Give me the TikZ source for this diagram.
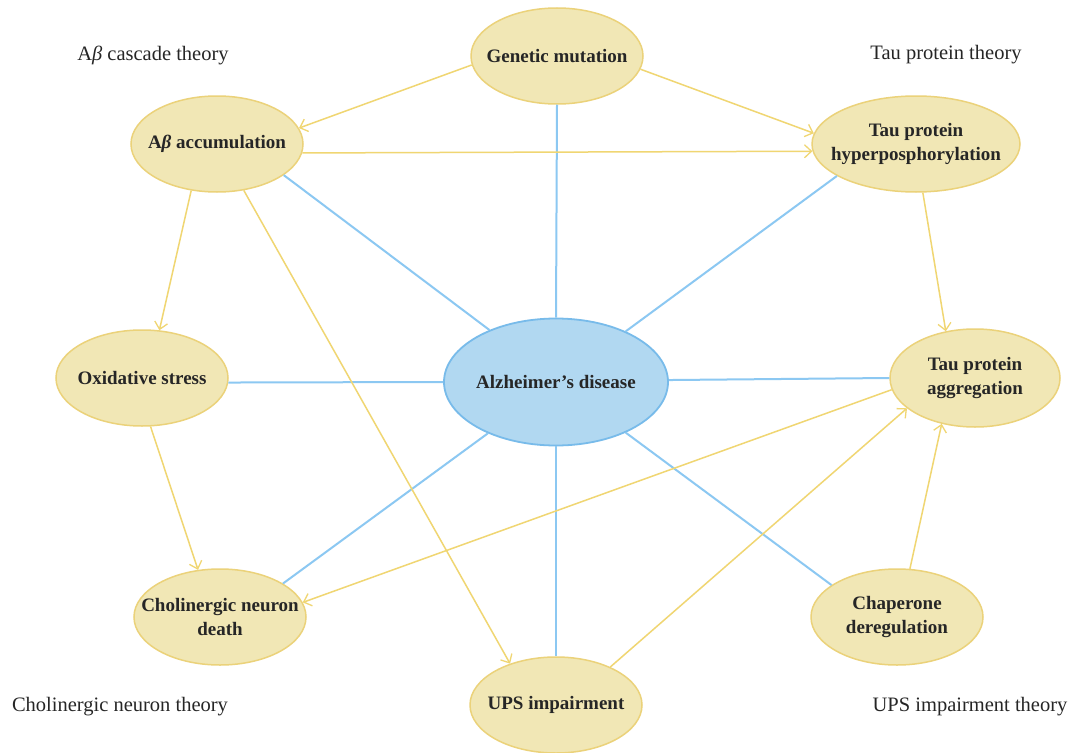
\documentclass[tikz,border=0pt]{standalone}
\usepackage{fontspec}
\setmainfont{Liberation Serif}
\usetikzlibrary{shapes.geometric,arrows.meta}
\definecolor{yfill}{HTML}{F1E7B5}
\definecolor{ydraw}{HTML}{EBD27A}
\definecolor{yline}{HTML}{F0D672}
\definecolor{bfill}{HTML}{B1D8F1}
\definecolor{bdraw}{HTML}{78BBEA}
\definecolor{bline}{HTML}{8CC8F2}
\definecolor{txt}{HTML}{262626}
\begin{document}
\begin{tikzpicture}[x=1pt,y=-1pt,
  ynode/.style={ellipse, fill=yfill, draw=ydraw, line width=1.5pt, inner sep=0pt,
    minimum width=172pt, minimum height=96pt},
  bnode/.style={ellipse, fill=bfill, draw=bdraw, line width=1.8pt, inner sep=0pt,
    minimum width=224pt, minimum height=127pt},
  ntext/.style={align=center, text=txt, inner sep=0pt,
    font=\fontsize{19}{24}\selectfont\bfseries},
  theory/.style={text=txt, inner sep=0pt, font=\fontsize{20.5}{24}\selectfont},
  yarr/.style={draw=yline, line width=1.5pt, -{Straight Barb[length=7pt,width=13pt,line width=1.3pt]}},
  bcon/.style={draw=bline, line width=2pt}]
\useasboundingbox[fill=white] (0,0) rectangle (1073,752);
% nodes
\node[ynode, label={[ntext]center:Genetic mutation}] (gen) at (557,56) {};
\node[ynode, label={[ntext]center:A\textit{β} accumulation}] (ab) at (217,144) {};
\node[ynode, minimum width=208pt, label={[ntext]center:Tau protein\\hyperposphorylation}] (th) at (916,144) {};
\node[ynode, label={[ntext]center:Oxidative stress}] (ox) at (142,378) {};
\node[bnode, label={[ntext]center:Alzheimer’s disease}] (alz) at (556,382) {};
\node[ynode, minimum width=170pt, minimum height=98pt, label={[ntext]center:Tau protein\\aggregation}] (agg) at (975,378) {};
\node[ynode, label={[ntext]center:Cholinergic neuron\\death}] (cho) at (220,617) {};
\node[ynode, label={[ntext]center:Chaperone\\deregulation}] (chap) at (897,617) {};
\node[ynode, label={[ntext]center:UPS impairment}] (ups) at (556,705) {};
% theory labels
\node[theory] (t1) at (153,55) {A\textit{β} cascade theory};
\node[theory] (t2) at (946,55) {Tau protein theory};
\node[theory] (t3) at (120,707) {Cholinergic neuron theory};
\node[theory] (t4) at (970,707) {UPS impairment theory};
% blue connectors
\draw[bcon] (alz.north) -- (gen.south);
\draw[bcon] (alz.142) -- (ab.-25);
\draw[bcon] (alz.36) -- (th.202);
\draw[bcon] (alz.180) -- (ox.-3);
\draw[bcon] (alz.1) -- (agg.180);
\draw[bcon] (alz.217) -- (cho.28);
\draw[bcon] (alz.south) -- (ups.north);
\draw[bcon] (alz.-36) -- (chap.154);
% yellow arrows
\draw[yarr] (gen.186) -- (ab.11);
\draw[yarr] (gen.-9) -- (th.174);
\draw[yarr] (ab.-6) -- (th.184.5);
\draw[yarr] (ab.-119) -- (ox.70);
\draw[yarr] (ab.-60) -- (ups.138);
\draw[yarr] (th.-82) -- (agg.122);
\draw[yarr] (ox.-80) -- (cho.115);
\draw[yarr] (agg.188) -- (cho.10);
\draw[yarr] (ups.35) -- (agg.204);
\draw[yarr] (chap.75) -- (agg.234);
\end{tikzpicture}
\end{document}
